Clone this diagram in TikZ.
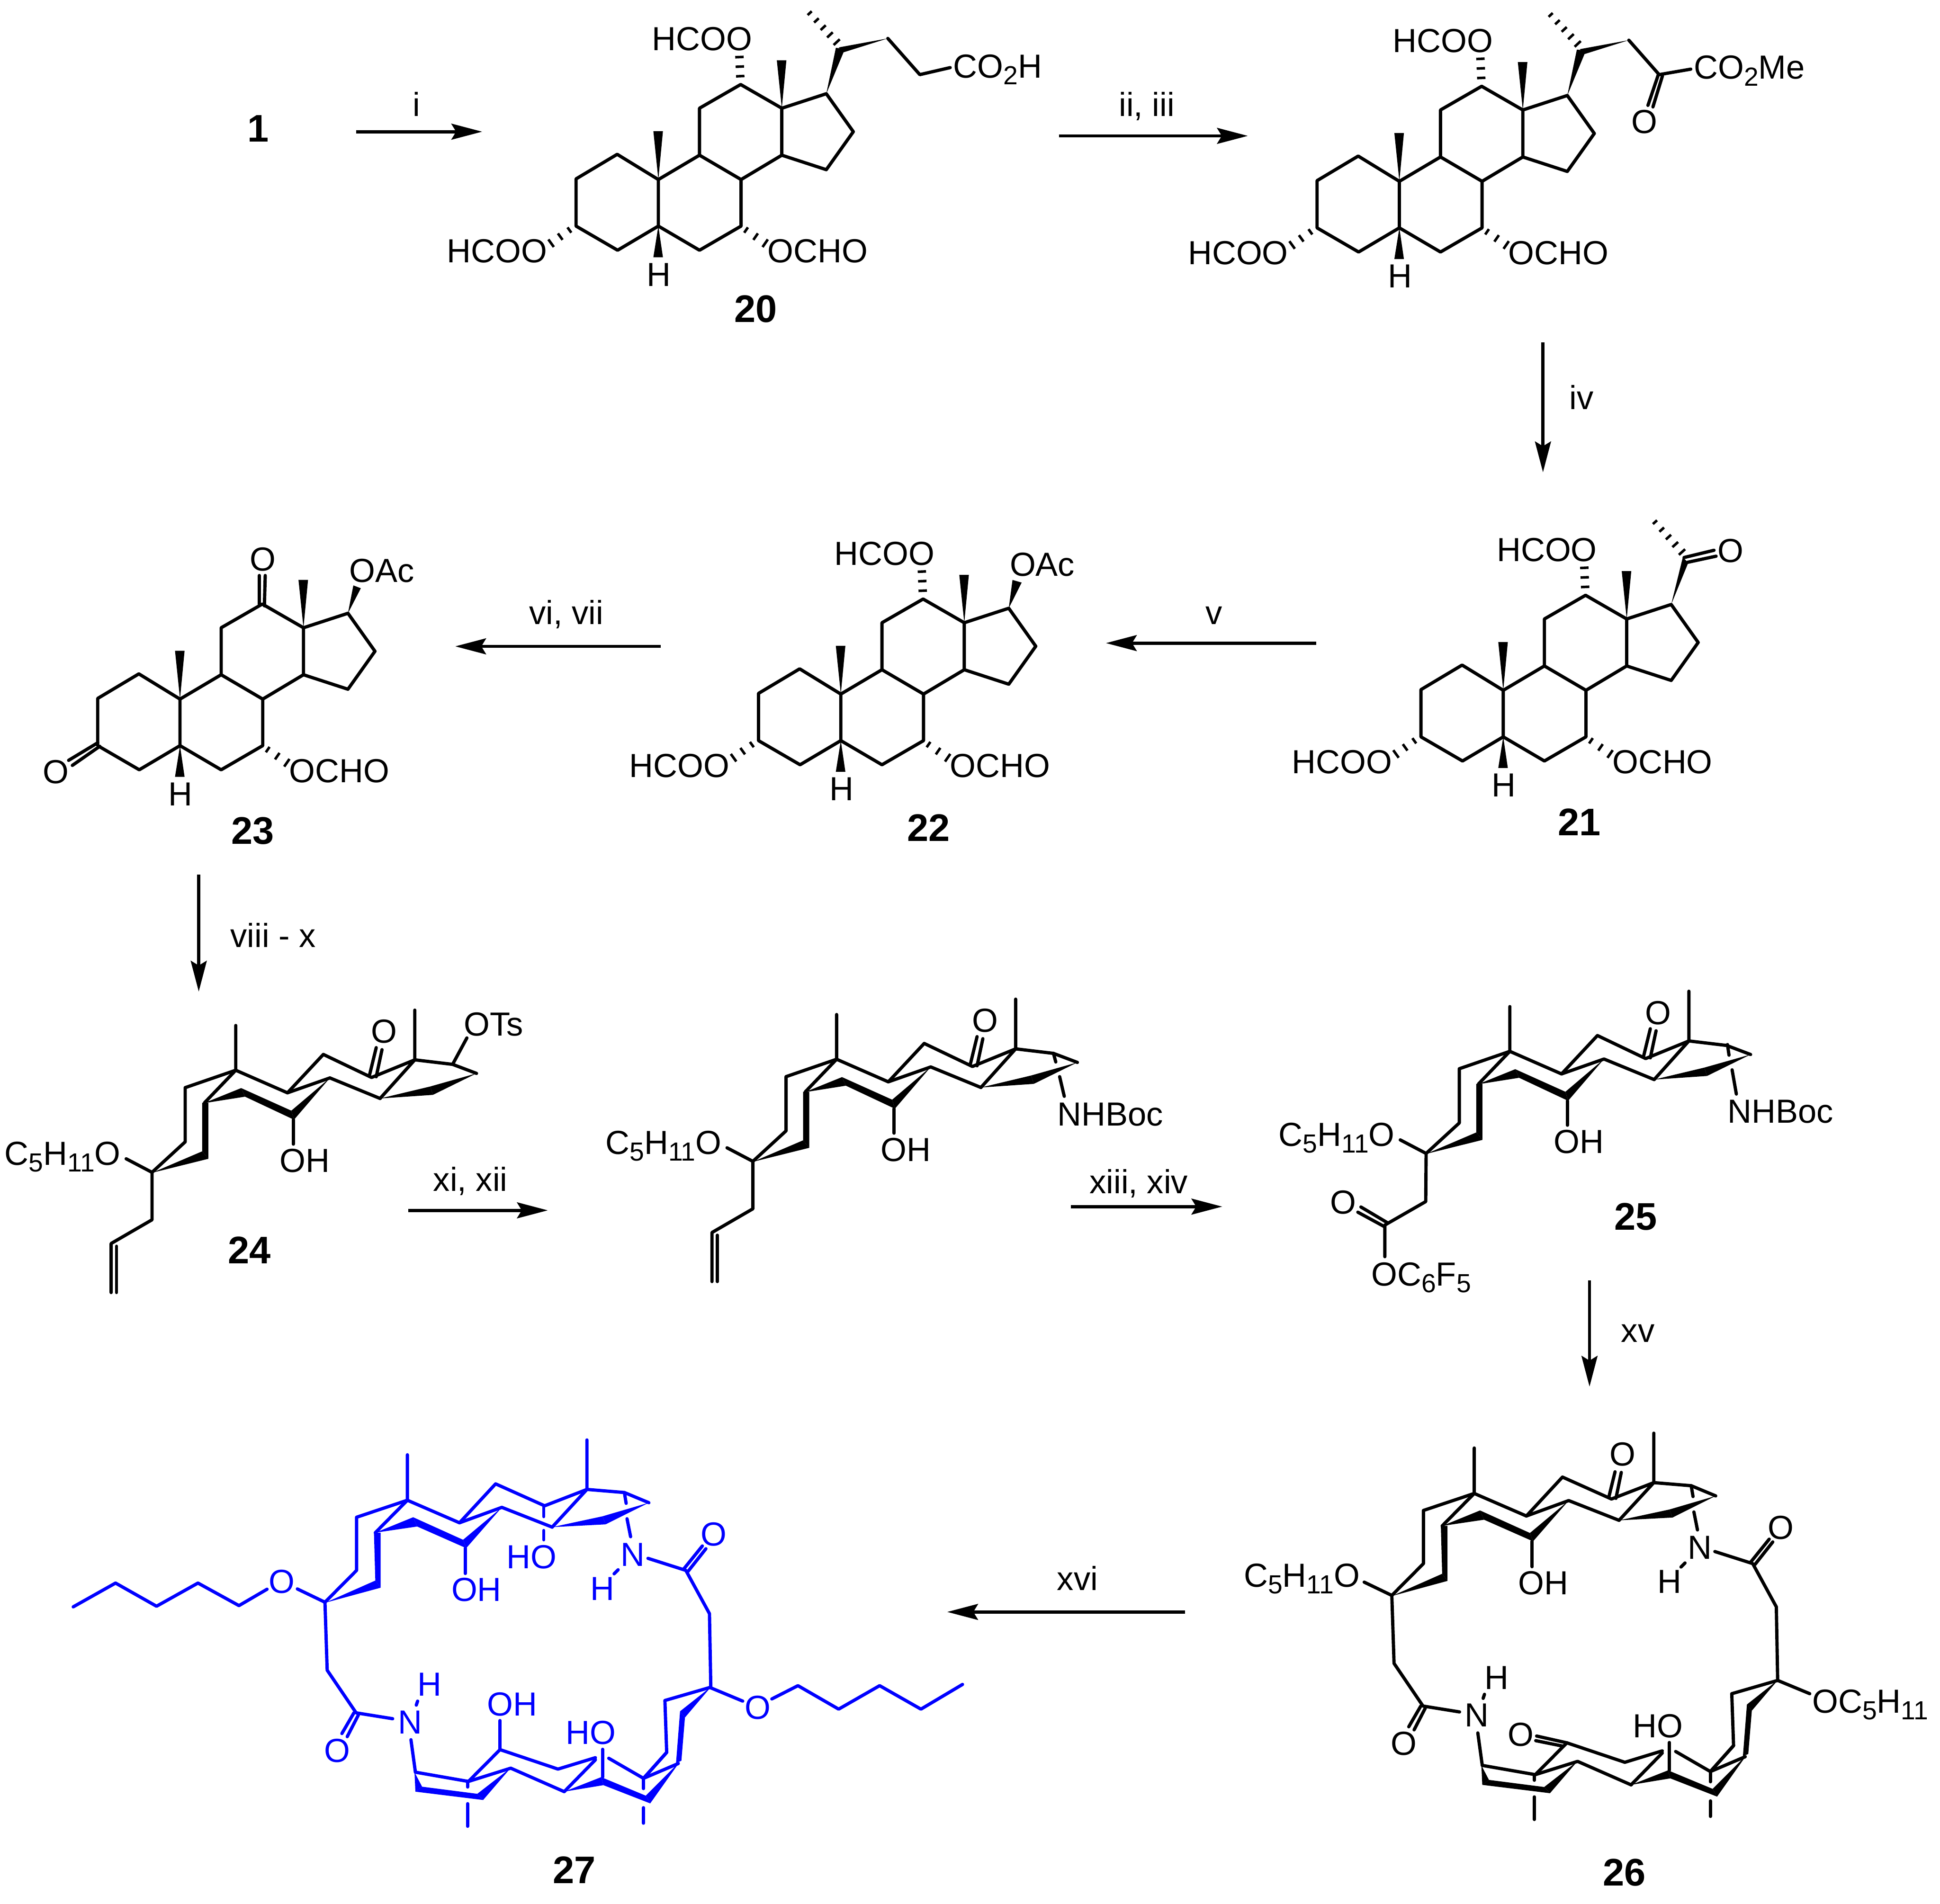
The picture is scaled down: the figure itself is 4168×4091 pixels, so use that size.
\documentclass[tikz,border=0pt]{standalone}
\usepackage{fontspec}
\setmainfont{Liberation Sans}
\usetikzlibrary{calc,arrows.meta}
\definecolor{chemblue}{RGB}{0,0,255}
\tikzset{
  bond/.style={line width=.07cm,line cap=round,line join=round},
  hashline/.style={line width=.055cm},
  lbl/.style={inner sep=0pt,outer sep=0pt,anchor=base west,xshift=-.04cm,font=\fontsize{20.4}{24}\selectfont},
  num/.style={inner sep=0pt,outer sep=0pt,anchor=base west,xshift=-.03cm,text=black,font=\fontsize{23.5}{28}\selectfont\bfseries},
  rxn/.style={line width=.07cm,-{Stealth[length=.66cm,width=.34cm,inset=.1cm]}},
  steroidunits/.style={x=0.008929cm,y=-0.00472cm},
  chairunits/.style={x=0.00829cm,y=-0.004847cm},
  ringunits/.style={x=0.00957cm,y=-0.00663cm},
}
\newcommand{\sbb}[1]{\raisebox{-.2em}{\fontsize{16}{17}\selectfont #1}}
% hashed bond: from, to, count, half width start, half width end (in 0.01cm)
\newcommand{\chemhash}[5]{%
  \coordinate (hb) at ($(#1)!2!(#2)$);
  \foreach \hi in {1,...,#3}{%
    \pgfmathsetmacro\hasht{(\hi-1)/(#3-1)}%
    \pgfmathsetmacro\hashw{(#4+(#5-#4)*\hasht)*0.01}%
    \draw[hashline] ($($(#1)!\hasht!(#2)$)!\hashw cm!90:(hb)$) -- ($($(#1)!\hasht!(#2)$)!\hashw cm!-90:(hb)$);
  }%
}
% ---------- flat steroid ----------
\newcommand{\steroidbase}{%
  \draw[bond] (477,703)--(378,815)--(378,1030)--(478,1140)--(576,1030)--(576,818)--cycle;
  \draw[bond] (576,818)--(675,707)--(775,818)--(775,1030)--(675,1140)--(576,1030);
  \draw[bond] (675,707)--(675,493)--(774,385)--(873,493)--(873,707)--(775,818);
  \draw[bond] (873,493)--(980,427)--(1045,600)--(980,773)--(873,707);
  \fill (576,818)--(564,598)--(587,598)--cycle;
  \fill (873,493)--(861,275)--(884,275)--cycle;
  \fill (576,1030)--(564,1172)--(587,1172)--cycle;
  \chemhash{787,1048}{833,1108}{3}{7}{10}
  \node[lbl] (h5) at (553,1303) {H};
  \node[lbl] (ocho) at (843,1197) {OCHO};
}
\newcommand{\cthree}{%
  \chemhash{362,1048}{318,1108}{3}{7}{10}
  \node[lbl] (hcooa) at (72,1197) {HCOO};
}
\newcommand{\ctwelve}{%
  \chemhash{773,347}{771,260}{3}{9}{9}
  \node[lbl] (hcoob) at (565,230) {HCOO};
}
\newcommand{\sidechain}{%
  \fill (980,427)--(1003,218)--(1025,222)--cycle;
  \fill (1128,175)--(1010,216)--(1022,238)--cycle;
  \chemhash{1005,192}{940,60}{5}{9}{6}
}
% ---------- chair steroid ----------
\newcommand{\chair}{%
  \draw[bond] (611,255)--(611,453)--(480,530)--(480,770)--(394,905)--(327,845);
  \draw[bond] (611,453)--(530,597);
  \fill (394,907)--(524,812)--(540,845)--cycle;
  \fill (524,597)--(540,597)--(540,845)--(524,812)--cycle;
  \fill (528,599)--(625,532)--(635,570)--cycle;
  \fill (625,532)--(755,632)--(762,672)--(635,570)--cycle;
  \fill (855,487)--(755,632)--(762,672)--cycle;
  \draw[bond] (611,453)--(745,553)--(855,487)--(985,578);
  \draw[bond] (745,553)--(838,383)--(963,485)--(1075,407)--(985,578);
  \draw[bond] (1075,187)--(1075,407)--(1173,427)--(1235,467);
  \fill (985,578)--(1115,525)--(1122,562)--cycle;
  \fill (1115,525)--(1235,467)--(1122,562)--cycle;
  \draw[bond] (760,672)--(760,780);
  \draw[bond] (958,472)--(975,353);
  \draw[bond] (975,482)--(990,362);
  \node[lbl] (oket) at (967,333) {O};
  \node[lbl] (oh) at (730,905) {OH};
  \node[lbl] (opent) at (17,873) {C\sbb{5}H\sbb{11}O};
}
\newcommand{\allyl}{%
  \draw[bond] (394,905)--(394,1115)--(288,1220)--(288,1437);
  \draw[bond] (302,1232)--(302,1437);
}
% ---------- macrocycle ----------
\newcommand{\macrocycle}{%
  \draw[bond] (530,93)--(530,240)--(416,295)--(416,467)--(345,570)--(283,527);
  \draw[bond] (530,240)--(458,345);
  \fill (345,572)--(458,500)--(470,523)--cycle;
  \fill (455,345)--(470,345)--(470,523)--(458,500)--cycle;
  \fill (458,345)--(543,295)--(552,325)--cycle;
  \fill (543,295)--(655,368)--(662,395)--(552,325)--cycle;
  \fill (742,263)--(655,368)--(662,395)--cycle;
  \draw[bond] (660,395)--(660,477);
  \node[lbl] (oha) at (633,567) {OH};
  \draw[bond] (530,240)--(647,313)--(742,263)--(855,327);
  \draw[bond] (647,313)--(728,187)--(838,258)--(933,205)--(855,327);
  \draw[bond] (933,45)--(933,205)--(1017,215)--(1072,248);
  \fill (855,327)--(968,292)--(975,318)--cycle;
  \fill (968,292)--(1072,248)--(975,318)--cycle;
  \draw[bond] (1017,215)--(1021,250);
  \draw[bond] (1023,300)--(1031,358);
  \node[lbl] (na) at (1013,453) {N};
  \node[lbl] (ha) at (945,563) {H};
  \draw[bond] (1003,465)--(994,478);
  \draw[bond] (1070,428)--(1155,467)--(1208,607)--(1211,845)--(1108,888)--(1112,1056)--(1060,1140);
  \draw[bond] (1150,463)--(1192,388);
  \draw[bond] (1160,470)--(1200,397);
  \node[lbl] (oama) at (1193,388) {O};
  \fill (1212,843)--(1142,923)--(1153,943)--cycle;
  \fill (1142,923)--(1153,943)--(1145,1083)--(1133,1090)--cycle;
  \draw[bond] (1060,1140)--(1138,1092);
  \fill (1142,1085)--(1065,1196)--(1075,1221)--cycle;
  \fill (965,1136)--(1065,1196)--(1075,1221)--(970,1162)--cycle;
  \fill (882,1183)--(965,1136)--(970,1162)--cycle;
  \draw[bond] (882,1183)--(952,1080);
  \draw[bond] (882,1183)--(762,1107)--(667,1150)--(548,1120);
  \draw[bond] (738,1047)--(868,1110)--(952,1073);
  \draw[bond] (738,1047)--(667,1150);
  \draw[bond] (982,1075)--(1060,1140)--(1112,1056);
  \fill (762,1106)--(687,1190)--(700,1210)--cycle;
  \fill (546,1120)--(548,1183)--(563,1167)--cycle;
  \fill (563,1167)--(548,1183)--(700,1210)--(687,1190)--cycle;
  \draw[bond] (968,1046)--(968,1136);
  \node[lbl] (hob) at (890,1030) {HO};
  \draw[bond] (665,1150)--(665,1168);
  \draw[bond] (665,1222)--(665,1295);
  \draw[bond] (1060,1140)--(1060,1173);
  \draw[bond] (1060,1235)--(1060,1285);
  \draw[bond] (538,1015)--(548,1120);
  \node[lbl] (nb) at (513,995) {N};
  \node[lbl] (hb2) at (557,873) {H};
  \draw[bond] (553,890)--(550,903);
  \draw[bond] (345,570)--(350,790)--(415,928)--(497,947);
  \draw[bond] (410,928)--(383,995);
  \draw[bond] (420,935)--(395,1005);
  \node[lbl] (oamb) at (347,1087) {O};
}
\begin{document}
\begin{tikzpicture}[x=0.01cm,y=-0.01cm]
\useasboundingbox (0,0) rectangle (4168,4091);
\fill[white] (0,0) rectangle (4168,4091);

% compound 1
\node[num] (n1) at (535,305) {1};

% compound 20
\begin{scope}[shift={(900,0)},steroidunits,name prefix=c20-]
  \steroidbase \cthree \ctwelve \sidechain
  \draw[bond] (1128,175)--(1205,340)--(1278,308);
  \node[lbl] (acid) at (1290,355) {CO\sbb{2}H};
  \node[num] (num) at (762,1468) {20};
\end{scope}

% keto ester
\begin{scope}[shift={(2492,3.8)},steroidunits,name prefix=ck-]
  \steroidbase \cthree \ctwelve \sidechain
  \draw[bond] (1128,175)--(1201,332)--(1277,307);
  \draw[bond] (1199,332)--(1174,472);
  \draw[bond] (1209,337)--(1186,479);
  \node[lbl] (oket) at (1139,599) {O};
  \node[lbl] (ester) at (1289,352) {CO\sbb{2}Me};
\end{scope}

% compound 21
\begin{scope}[shift={(2715.2,1097.6)},steroidunits,name prefix=c21-]
  \steroidbase \cthree \ctwelve
  \fill (980,427)--(1008,212)--(1021,237)--cycle;
  \chemhash{1006,188}{941,52}{5}{9}{6}
  \draw[bond] (1011,213)--(1083,180);
  \draw[bond] (1019,235)--(1088,207);
  \node[lbl] (oket) at (1096,235) {O};
  \node[num] (num) at (711,1480) {21};
\end{scope}

% compound 22
\begin{scope}[shift={(1292,1105.7)},steroidunits,name prefix=c22-]
  \steroidbase \cthree \ctwelve
  \fill (980,427)--(989,298)--(1011,310)--cycle;
  \node[lbl] (oac) at (987,281) {OAc};
  \node[num] (num) at (739,1488) {22};
\end{scope}

% compound 23
\begin{scope}[shift={(-127.7,1116.5)},steroidunits,name prefix=c23-]
  \steroidbase
  \fill (980,427)--(993,300)--(1011,313)--cycle;
  \node[lbl] (oac) at (988,285) {OAc};
  \draw[bond] (767,255)--(767,385);
  \draw[bond] (781,255)--(779,393);
  \node[lbl] (oa) at (748,233) {O};
  \draw[bond] (378,1017)--(308,1097);
  \draw[bond] (383,1033)--(317,1120);
  \node[lbl] (ob) at (251,1202) {O};
  \node[num] (num) at (703,1478) {23};
\end{scope}

% compound 24
\begin{scope}[shift={(0,2080)},chairunits,name prefix=c24-]
  \chair \allyl
  \draw[bond] (1173,427)--(1210,310);
  \node[lbl] (ots) at (1207,300) {OTs};
  \node[num] (num) at (595,1308) {24};
\end{scope}

% NHBoc intermediate
\begin{scope}[shift={(1290.9,2056.4)},chairunits,name prefix=cn-]
  \chair \allyl
  \draw[bond] (1173,427)--(1179,465);
  \draw[bond] (1189,530)--(1201,617);
  \node[lbl] (boc) at (1188,747) {NHBoc};
\end{scope}

% compound 25
\begin{scope}[shift={(2737.3,2039.4)},chairunits,name prefix=c25-]
  \chair
  \draw[bond] (1175,423)--(1179,470);
  \draw[bond] (1187,535)--(1198,642);
  \node[lbl] (boc) at (1180,770) {NHBoc};
  \draw[bond] (394,905)--(393,1118)--(287,1222)--(287,1362);
  \draw[bond] (287,1230)--(217,1165);
  \draw[bond] (295,1213)--(225,1142);
  \node[lbl] (oa) at (150,1173) {O};
  \node[lbl] (oaryl) at (257,1490) {OC\sbb{6}F\sbb{5}};
  \node[num] (num) at (885,1243) {25};
\end{scope}

% compound 26
\begin{scope}[shift={(2660,3050)},ringunits,name prefix=c26-]
  \macrocycle
  \node[lbl] (opent) at (17,542) {C\sbb{5}H\sbb{11}O};
  \draw[bond] (832,252)--(846,170);
  \draw[bond] (848,256)--(860,172);
  \node[lbl] (oa) at (838,150) {O};
  \draw[bond] (738,1047)--(670,1025);
  \draw[bond] (730,1058)--(668,1040);
  \node[lbl] (ob) at (610,1057) {O};
  \draw[bond] (1211,845)--(1283,888);
  \node[lbl] (opentb) at (1293,950) {OC\sbb{5}H\sbb{11}};
  \node[num] (num) at (822,1510) {26};
\end{scope}

% compound 27
\begin{scope}[shift={(367.9,3064.6)},ringunits,name prefix=c27-,color=chemblue]
  \macrocycle
  \draw[bond] (836,258)--(836,293);
  \draw[bond] (836,338)--(836,368);
  \node[lbl] (hoc) at (757,461) {HO};
  \draw[bond] (738,953)--(738,1046);
  \node[lbl] (ohd) at (713,938) {OH};
  \node[lbl] (oa) at (223,541) {O};
  \draw[bond] (215,528)--(152,581)--(60,508)--(-33,583)--(-125,508)--(-220,585);
  \node[num] (num) at (860,1480) {27};
\end{scope}
\begin{scope}[shift={(1200,3050)},x=0.006378cm,y=-0.00663cm,name prefix=c27b-,color=chemblue]
  \draw[bond] (510,868)--(620,912);
  \node[lbl] (ob) at (633,970) {O};
  \draw[bond] (718,905)--(806,862)--(943,938)--(1081,862)--(1220,938)--(1360,858);
\end{scope}

% reaction arrows
\coordinate (a1) at (765,283);   \coordinate (b1) at (1036,283);
\coordinate (a2) at (2275,292);  \coordinate (b2) at (2681,292);
\coordinate (a3) at (3315,736);  \coordinate (b3) at (3315,1015);
\coordinate (a4) at (2828,1382); \coordinate (b4) at (2376,1382);
\coordinate (a5) at (1420,1389); \coordinate (b5) at (978,1389);
\coordinate (a6) at (427,1879);  \coordinate (b6) at (427,2131);
\coordinate (a7) at (877,2601);  \coordinate (b7) at (1177,2601);
\coordinate (a8) at (2301,2593); \coordinate (b8) at (2626,2593);
\coordinate (a9) at (3415,2752); \coordinate (b9) at (3415,2980);
\coordinate (a10) at (2546,3464);\coordinate (b10) at (2035,3464);
\foreach \k in {1,...,10}{\draw[rxn] (a\k)--(b\k);}
\node[lbl] (r1) at (891,250) {i};
\node[lbl] (r2) at (2408,250) {ii, iii};
\node[lbl] (r3) at (3376,880) {iv};
\node[lbl] (r4) at (2594,1342) {v};
\node[lbl] (r5) at (1141,1342) {vi, vii};
\node[lbl] (r6) at (499,2036) {viii - x};
\node[lbl] (r7) at (935,2560) {xi, xii};
\node[lbl] (r8) at (2345,2565) {xiii, xiv};
\node[lbl] (r9) at (3487,2884) {xv};
\node[lbl] (r10) at (2275,3418) {xvi};
\end{tikzpicture}
\end{document}
